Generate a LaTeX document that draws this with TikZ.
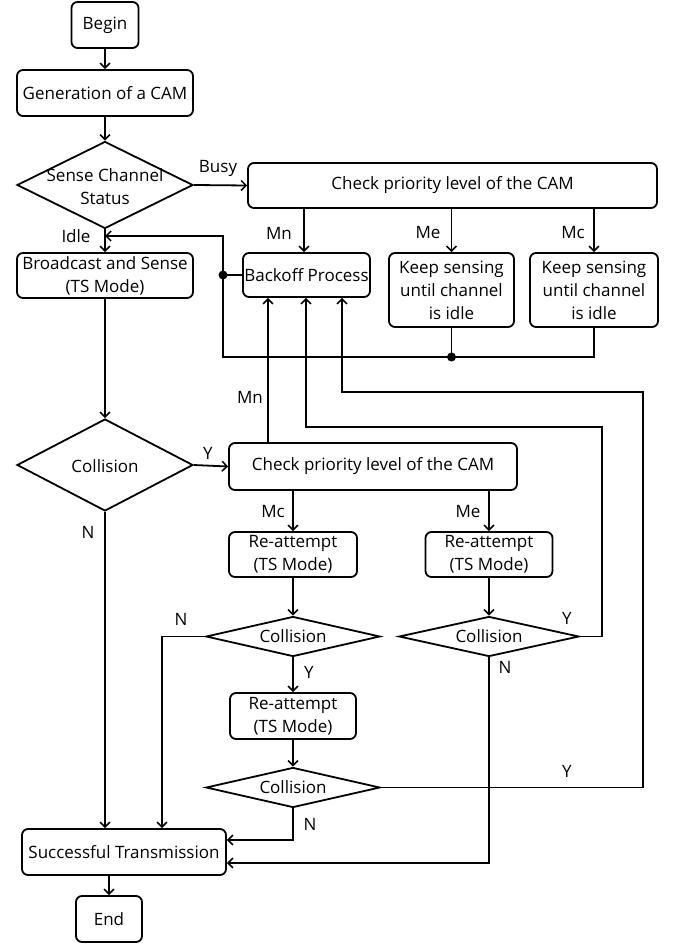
\documentclass[tikz,border=0pt]{standalone}
\usepackage{fontspec}
\setmainfont{Open Sans}
\usetikzlibrary{shapes.geometric,arrows.meta}
\newcommand{\fcfont}{\fontsize{17}{23}\selectfont}
\begin{document}
\begin{tikzpicture}[x=1pt,y=-1pt,
  box/.style={draw, line width=1.8pt, rounded corners=6pt, inner sep=0pt, align=center, font=\fcfont},
  dia/.style={draw, diamond, line width=1.8pt, inner sep=0pt},
  dtext/.style={align=center, inner sep=0pt, font=\fcfont},
  lab/.style={inner sep=0pt, font=\fcfont},
  ln/.style={line width=1.8pt},
  arr/.style={line width=1.8pt, -{Straight Barb[length=5pt,width=10pt,line width=1.5pt]}},
  dot/.style={circle, fill=black, inner sep=0pt, minimum size=9pt}]
\useasboundingbox (0,0) rectangle (675,944);
% nodes
\node[box, minimum width=67pt, minimum height=46pt] (begin) at (105,25) {Begin};
\node[box, minimum width=176pt, minimum height=46pt] (gen) at (105,93) {Generation of a CAM};
\node[dia, minimum width=176pt, minimum height=87pt] (sense) at (105,185) {};
\node[dtext] (senset) at (105,187) {Sense Channel\\Status};
\node[box, minimum width=409pt, minimum height=45pt] (check1) at (452.5,185.5) {Check priority level of the CAM};
\node[box, minimum width=127pt, minimum height=44pt] (backoff) at (306.5,275) {Backoff Process};
\node[box, minimum width=125pt, minimum height=74pt] (keep1) at (451.5,290) {Keep sensing\\until channel\\is idle};
\node[box, minimum width=128pt, minimum height=74pt] (keep2) at (594,290) {Keep sensing\\until channel\\is idle};
\node[box, minimum width=176pt, minimum height=45pt] (bcast) at (105,275.5) {Broadcast and Sense\\(TS Mode)};
\node[dia, minimum width=176pt, minimum height=92pt] (coll1) at (105,465) {};
\node[dtext] (coll1t) at (105,466) {Collision};
\node[box, minimum width=288pt, minimum height=47pt] (check2) at (373,466.5) {Check priority level of the CAM};
\node[box, minimum width=128pt, minimum height=45pt] (re1) at (293,554.5) {Re-attempt\\(TS Mode)};
\node[box, minimum width=127pt, minimum height=45pt] (re2) at (489,554.5) {Re-attempt\\(TS Mode)};
\node[dia, minimum width=174pt, minimum height=40pt] (coll2) at (293,636.5) {};
\node[dtext] (coll2t) at (293,636.5) {Collision};
\node[dia, minimum width=180pt, minimum height=40pt] (coll4) at (489,636.5) {};
\node[dtext] (coll4t) at (489,636.5) {Collision};
\node[box, minimum width=126pt, minimum height=46pt] (re3) at (293,716) {Re-attempt\\(TS Mode)};
\node[dia, minimum width=174pt, minimum height=40pt] (coll3) at (293,787.5) {};
\node[dtext] (coll3t) at (293,787.5) {Collision};
\node[box, minimum width=204pt, minimum height=46pt] (succ) at (124,852) {Successful Transmission};
\node[box, minimum width=66pt, minimum height=46pt] (end) at (109,919) {End};
% junction coordinates
\coordinate (idlej) at (105,236);
\coordinate (busL) at (223,357);
\coordinate (busT) at (223,236);
\node[dot] (dotb) at (223,275) {};
\node[dot] (dotk) at (451.5,357) {};
\coordinate (mnx) at (268,0);
\coordinate (l1x) at (306,0);
\coordinate (l2x) at (342,0);
\coordinate (r1) at (602,427);
\coordinate (r2) at (643,392);
\coordinate (nx) at (162,636.5);
\coordinate (n3) at (293,840);
\coordinate (n4) at (489,863);
% connectors
\draw[arr] (begin) -- (gen);
\draw[arr] (gen) -- (sense);
\draw[arr] (sense.east) -- (check1.west);
\draw[arr] (sense.south) -- (bcast.north);
\draw[arr] (check1.south -| 304,0) -- (backoff.north -| 304,0);
\draw[arr] (keep1.north |- check1.south) -- (keep1.north);
\draw[arr] (keep2.north |- check1.south) -- (keep2.north);
\draw[ln] (keep1.south) -- (dotk.center);
\draw[arr] (keep2.south) -- (keep2.south |- busL) -- (busL) -- (busT) -- (idlej);
\draw[ln] (backoff.west) -- (dotb.center);
\draw[arr] (bcast.south) -- (coll1.north);
\draw[arr] (coll1.east) -- (check2.west);
\draw[arr] (coll1.south) -- (coll1.south |- succ.north);
\draw[arr] (mnx |- check2.north) -- (mnx |- backoff.south);
\draw[arr] (coll4.east) -- (coll4.east -| r1) -- (r1) -- (l1x |- r1) -- (l1x |- backoff.south);
\draw[arr] (coll3.east) -- (coll3.east -| r2) -- (r2) -- (l2x |- r2) -- (l2x |- backoff.south);
\draw[arr] (re1.north |- check2.south) -- (re1.north);
\draw[arr] (re2.north |- check2.south) -- (re2.north);
\draw[arr] (re1.south) -- (coll2.north);
\draw[arr] (coll2.south) -- (re3.north);
\draw[arr] (re3.south) -- (coll3.north);
\draw[arr] (re2.south) -- (coll4.north);
\draw[arr] (coll2.west) -- (nx) -- (nx |- succ.north);
\draw[arr] (coll3.south) -- (n3) -- (succ.east |- n3);
\draw[arr] (coll4.south) -- (n4) -- (succ.east |- n4);
\draw[arr] (succ.south -| end.north) -- (end.north);
% labels
\node[lab] (lbusy) at (218,168) {Busy};
\node[lab] (lidle) at (76,236) {Idle};
\node[lab] (lmn1) at (279,233) {Mn};
\node[lab] (lme1) at (428,233) {Me};
\node[lab] (lmc1) at (573,233) {Mc};
\node[lab] (lmn2) at (250,397) {Mn};
\node[lab] (ly1) at (208,453) {Y};
\node[lab] (ln1) at (88,532) {N};
\node[lab] (lmc2) at (273,512) {Mc};
\node[lab] (lme2) at (468,512) {Me};
\node[lab] (ln2) at (181,619) {N};
\node[lab] (ly4) at (567,618) {Y};
\node[lab] (ly2) at (309,672) {Y};
\node[lab] (ln4) at (505,667) {N};
\node[lab] (ly3) at (567,771) {Y};
\node[lab] (ln3) at (310,824) {N};
\end{tikzpicture}
\end{document}
